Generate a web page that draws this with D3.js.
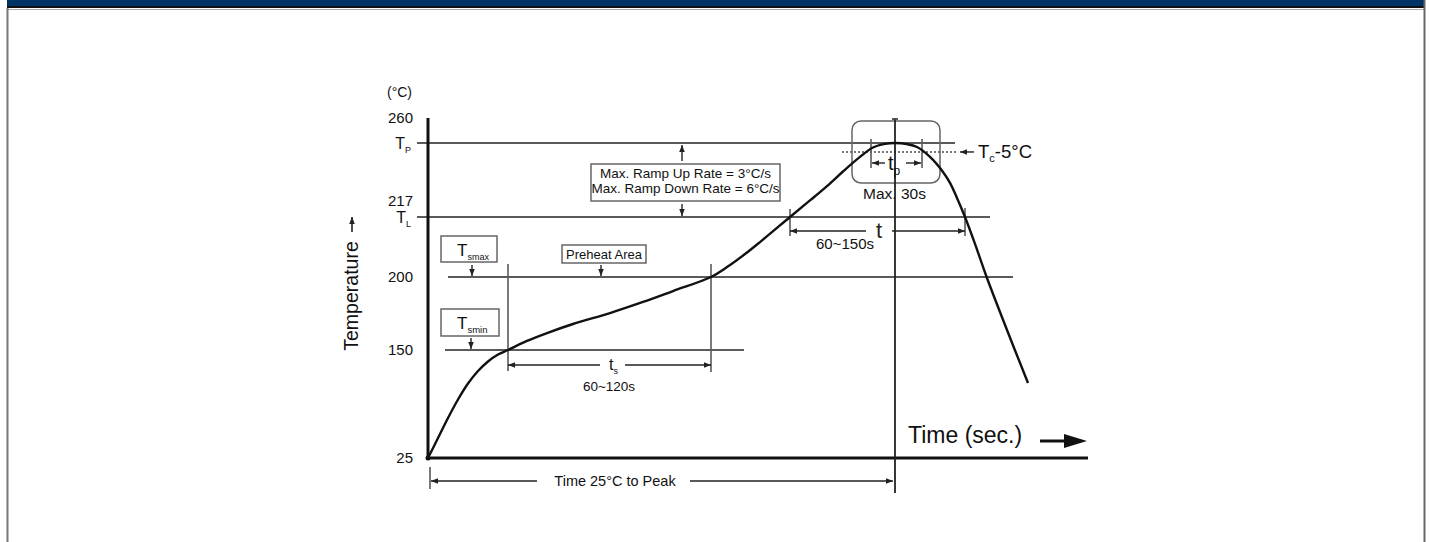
<!DOCTYPE html>
<html>
<head>
<meta charset="utf-8">
<script src="https://cdn.jsdelivr.net/npm/d3@7"></script>
<style>
  body { margin: 0; background: #fff; }
  text { font-family: "Liberation Sans", Arial, sans-serif; fill: #111; }
</style>
</head>
<body>
<script>
// reflow profile, schematic (time in s, temperature in degC)
const times = [0, 5, 10, 15, 20, 25, 30, 35, 40, 49.5, 59.5, 72.5, 91, 107.5, 122.5, 141.5, 149.5, 158.5, 166,
  181, 191, 199.5, 207.5, 216, 222.5, 228.5, 233.5, 239.5, 244.5, 251, 257.5, 261, 264.5, 268.5, 273.5, 279.5, 289.5, 300];
const temps = [25, 48.1, 71.3, 92.7, 111.2, 125.7, 136.7, 144.8, 150, 156.2, 161.6, 167.8, 175.3, 182.9, 190.4, 200, 202.8, 206.5, 209.9,
  217, 224.4, 230.8, 237.3, 243.8, 248.0, 249.6, 250, 249.5, 248.2, 243.8, 237.1, 232.2, 225.5, 217, 209.4, 199.3, 163.7, 111.8];

// axis breakpoints of the (non linear) temperature axis
const tempBreaks = [25, 150, 200, 217, 250, 260];
const tickValues = [260, 250, 217, 217, 200, 150, 25];
const tickLabels = ["260", "T|P", "217", "T|L", "200", "150", "25"];

// key points
const tsStart = 40, tsEnd = 141.5, tlStart = 181, tPeak = 233.5, tlEnd = 268.5, tMax = 330;
const Tp = 250, TL = 217, Tsmax = 200, Tsmin = 150, Tc5 = 246;

const W = 1429, H = 542;
const svg = d3.select("body").append("svg").attr("width", W).attr("height", H);

const x = d3.scaleLinear().domain([0, tMax]).range([428, 1088]);
const y = d3.scaleLinear().domain(tempBreaks).range([458, 350, 277, 217, 143, 118]);

// page frame
svg.append("rect").attr("x", 7).attr("y", 0).attr("width", 1418).attr("height", 7).attr("fill", "#003366");
svg.append("rect").attr("x", 7).attr("y", 6).attr("width", 1418).attr("height", 2).attr("fill", "#111");
svg.append("line").attr("x1", 8).attr("x2", 1424).attr("y1", 9.5).attr("y2", 9.5).attr("stroke", "#aaa");
svg.append("line").attr("x1", 7.5).attr("x2", 7.5).attr("y1", 8).attr("y2", H).attr("stroke", "#777").attr("stroke-width", 2);
svg.append("line").attr("x1", 1424.5).attr("x2", 1424.5).attr("y1", 0).attr("y2", H).attr("stroke", "#666").attr("stroke-width", 2);

const defs = svg.append("defs");
defs.append("marker").attr("id", "ah").attr("viewBox", "0 0 10 10").attr("refX", 10).attr("refY", 5)
    .attr("markerWidth", 8).attr("markerHeight", 7).attr("markerUnits", "userSpaceOnUse").attr("orient", "auto")
    .append("path").attr("d", "M0,1 L10,5 L0,9 Z").attr("fill", "#222");

const g = svg.append("g");
const grey = "#5a5a5a";

function line(x1, y1, x2, y2, w = 1.8, c = grey) {
    return g.append("line").attr("x1", x1).attr("y1", y1).attr("x2", x2).attr("y2", y2)
        .attr("stroke", c).attr("stroke-width", w);
}
function arrow(x1, y1, x2, y2, w = 1.4) {
    return line(x1, y1, x2, y2, w, "#222").attr("marker-end", "url(#ah)");
}
function subText(px, py, main, sub, size, subSize, anchor = "start") {
    const t = g.append("text").attr("x", px).attr("y", py).attr("text-anchor", anchor).style("font-size", size + "px");
    t.append("tspan").text(main);
    t.append("tspan").attr("dy", subSize * 0.45).style("font-size", subSize + "px").text(sub);
    return t;
}
function box(x0, y0, x1, y1, rx = 0, fill = "#fff") {
    g.append("rect").attr("x", x0).attr("y", y0).attr("width", x1 - x0).attr("height", y1 - y0).attr("rx", rx)
        .attr("fill", fill).attr("stroke", "#666").attr("stroke-width", 1.5);
}

// level guide lines
line(x(0) - 11, y(Tp), x(263.5), y(Tp));
line(x(0) - 11, y(TL), x(281), y(TL));
line(x(10), y(Tsmax), x(292.5), y(Tsmax));
line(x(8.5), y(Tsmin), x(158), y(Tsmin));
g.append("line").attr("x1", x(207)).attr("x2", x(264.5)).attr("y1", y(Tc5)).attr("y2", y(Tc5))
    .attr("stroke", "#777").attr("stroke-width", 2).attr("stroke-dasharray", "2,2");

// axes
line(x(0), y(260), x(0), y(25) + 2, 3, "#111");
line(x(0), y(25), x(tMax), y(25), 3, "#111");
g.append("circle").attr("cx", x(0)).attr("cy", y(25)).attr("r", 2.5).attr("fill", "#111");

tickValues.forEach((v, i) => {
    const lab = tickLabels[i];
    const dy = lab === "217" ? -16 : 0;
    if (lab.includes("|")) {
        const [m, s] = lab.split("|");
        subText(411, y(v) + 6 + dy, m, s, 16, 9, "end");
    } else {
        g.append("text").attr("x", 413).attr("y", y(v) + 5 + dy).attr("text-anchor", "end")
            .style("font-size", "15px").text(lab);
    }
});
g.append("text").attr("x", 387).attr("y", 97).style("font-size", "14px").text("(°C)");

// y axis title
g.append("text").attr("transform", `translate(358,296) rotate(-90)`).attr("text-anchor", "middle")
    .style("font-size", "19.5px").text("Temperature");
arrow(352, 232, 352, 217, 1.6);

// x axis title
g.append("text").attr("x", 908).attr("y", 443).style("font-size", "23px").text("Time (sec.)");
line(1040, 441, 1068, 441, 3, "#111");
g.append("path").attr("d", "M1064,434 L1087,441 L1064,448 Z").attr("fill", "#111");

// ramp rate note
const rx0 = x(81.5), rx1 = x(176);
arrow(x(127), y(Tp) + 18, x(127), y(Tp) + 2);
arrow(x(127), 204, x(127), y(TL) - 1);
box(rx0, 164, rx1, 201);
g.append("text").attr("x", (rx0 + rx1) / 2).attr("y", 178).attr("text-anchor", "middle").style("font-size", "13.5px")
    .text("Max. Ramp Up Rate = 3°C/s");
g.append("text").attr("x", (rx0 + rx1) / 2).attr("y", 193).attr("text-anchor", "middle").style("font-size", "13.5px")
    .text("Max. Ramp Down Rate = 6°C/s");

// soak labels
box(441, 236, 497, 262);
subText(457, 256, "T", "smax", 17, 9);
arrow(472, 265, 472, y(Tsmax) - 1);
box(562, 245, 646, 263);
g.append("text").attr("x", 604).attr("y", 259).attr("text-anchor", "middle").style("font-size", "13px").text("Preheat Area");
arrow(601, 265, 601, y(Tsmax) - 1);
box(441, 309, 499, 336);
subText(457, 329, "T", "smin", 17, 9.5);
arrow(471, 338, 471, y(Tsmin) - 1);

// ts
line(x(tsStart), 264, x(tsStart), 371, 1.6);
line(x(tsEnd), 264, x(tsEnd), 372, 1.6);
arrow(x(86), 365, x(tsStart), 365);
arrow(x(98.5), 365, x(tsEnd), 365);
subText(609, 370, "t", "s", 16, 9);
g.append("text").attr("x", 609).attr("y", 391).attr("text-anchor", "middle").style("font-size", "13.5px").text("60~120s");

// time above liquidus
line(x(tlStart), 209, x(tlStart), 236, 1.6);
line(x(tlEnd), 208, x(tlEnd), 236, 1.6);
arrow(x(219), 231, x(tlStart), 231);
arrow(x(232), 231, x(tlEnd), 231);
g.append("text").attr("x", 879).attr("y", 238).attr("text-anchor", "middle").style("font-size", "22px").style("fill", "#2a2218").text("t");
g.append("text").attr("x", 845).attr("y", 249).attr("text-anchor", "middle").style("font-size", "15px").text("60~150s");

// peak zone
box(852, 121, 940, 183, 9, "none");
line(x(tPeak), 119, x(tPeak), 493, 1.8, "#222");
line(x(tPeak) - 3, 119, x(tPeak) + 3, 119, 1.8, "#444");
line(871, 139, 871, 168, 1.6);
line(922, 139, 922, 168, 1.6);
arrow(885, 163, 872, 163);
arrow(906, 163, 921, 163);
subText(888, 170, "t", "p", 20, 12);
g.append("text").attr("x", 863).attr("y", 199).style("font-size", "15.5px").text("Max. 30s");
arrow(974, y(Tc5), 960, y(Tc5));
const tc = g.append("text").attr("x", 978).attr("y", 158).style("font-size", "18.5px");
tc.append("tspan").text("T");
tc.append("tspan").attr("dy", 4).style("font-size", "11px").text("c");
tc.append("tspan").attr("dy", -4).text("-5°C");

// time 25C to peak
line(x(1), 467, x(1), 489, 1.6);
arrow(537, 481, x(1) + 1, 481);
arrow(690, 481, x(tPeak) - 2, 481);
g.append("text").attr("x", 615).attr("y", 486).attr("text-anchor", "middle").style("font-size", "14.5px").text("Time 25°C to Peak");

// profile curve
const pts = times.map((t, i) => [x(t), y(temps[i])]);
g.append("path").datum(pts)
    .attr("d", d3.line().curve(d3.curveCatmullRom.alpha(0.5)))
    .attr("fill", "none").attr("stroke", "#111").attr("stroke-width", 2.4);
</script>
</body>
</html>
